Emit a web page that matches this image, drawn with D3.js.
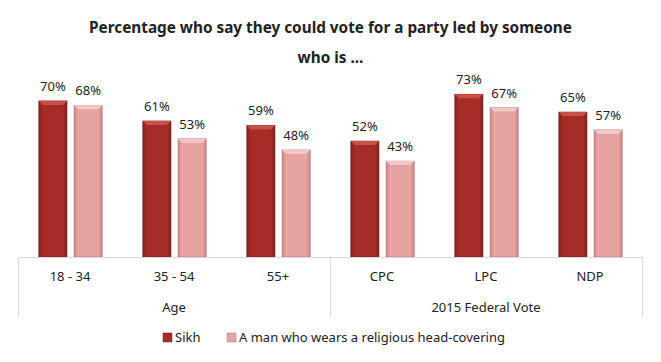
<!DOCTYPE html>
<html>
<head>
<meta charset="utf-8">
<script src="https://cdn.jsdelivr.net/npm/d3@7"></script>
<style>
  body { margin: 0; background: #fff; }
  text { font-family: "Noto Sans", "Open Sans", sans-serif; fill: #222; }
</style>
</head>
<body>
<div id="chart"></div>
<script>
const categories = ["18 - 34", "35 - 54", "55+", "CPC", "LPC", "NDP"];
const groups = [
  { name: "Age", cats: ["18 - 34", "35 - 54", "55+"] },
  { name: "2015 Federal Vote", cats: ["CPC", "LPC", "NDP"] }
];
const seriesNames = ["Sikh", "A man who wears a religious head-covering"];
const sikh = [70, 61, 59, 52, 73, 65];
const headCovering = [68, 53, 48, 43, 67, 57];
const titleLines = ["Percentage who say they could vote for a party led by someone", "who is ..."];

const width = 661, height = 362;
const margin = { left: 18, right: 19, axisY: 257 };

const data = categories.map((c, i) => ({ name: c, values: [sikh[i], headCovering[i]] }));

const svg = d3.select("#chart").append("svg")
  .attr("width", width)
  .attr("height", height);

const defs = svg.append("defs");
const palette = [
  { base: "#a52c27", edge: "#86201d", top: "#c85048", stroke: "#7a1e1b" },
  { base: "#e7a2a2", edge: "#c98787", top: "#f4c6c6", stroke: "#b87b7b" }
];
palette.forEach((p, i) => {
  const g = defs.append("linearGradient").attr("id", "grad" + i)
    .attr("x1", "0%").attr("x2", "100%").attr("y1", "0%").attr("y2", "0%");
  g.append("stop").attr("offset", "0%").attr("stop-color", p.edge);
  g.append("stop").attr("offset", "14%").attr("stop-color", p.base);
  g.append("stop").attr("offset", "86%").attr("stop-color", p.base);
  g.append("stop").attr("offset", "100%").attr("stop-color", p.edge);
});

// title, sized to fit the original width
const title = svg.append("g");
title.selectAll("text").data(titleLines).enter().append("text")
  .attr("x", width / 2)
  .attr("y", (d, i) => 33 + i * 30)
  .attr("text-anchor", "middle")
  .style("font-weight", "bold")
  .style("font-size", "15px")
  .text(d => d);
const firstLen = title.select("text").node().getComputedTextLength();
title.selectAll("text").style("font-size", (15 * 483 / firstLen).toFixed(2) + "px");

const x0 = d3.scaleBand()
  .domain(categories)
  .range([margin.left, width - margin.right]);

const x1 = d3.scaleBand()
  .domain([0, 1])
  .range([x0.bandwidth() * 0.2, x0.bandwidth() * 0.81])
  .paddingInner(0.2);

const y = d3.scaleLinear()
  .domain([0, 80])
  .range([margin.axisY, margin.axisY - 80 * 2.23]);

const cat = svg.selectAll(".cat")
  .data(data)
  .enter().append("g")
  .attr("class", "cat")
  .attr("transform", d => `translate(${x0(d.name)},0)`);

[0, 1].forEach(k => {
  const p = palette[k];
  const bw = x1.bandwidth();
  const bar = cat.append("g");
  bar.append("rect")
    .attr("x", x1(k))
    .attr("y", d => y(d.values[k]))
    .attr("width", bw)
    .attr("height", d => y(0) - y(d.values[k]))
    .attr("fill", `url(#grad${k})`)
    .attr("stroke", p.stroke)
    .attr("stroke-width", 0.6);
  // top bevel
  bar.append("path")
    .attr("d", d => {
      const x = x1(k), t = y(d.values[k]);
      return `M${x},${t}L${x + bw},${t}L${x + bw - 4},${t + 4}L${x + 4},${t + 4}Z`;
    })
    .attr("fill", p.top);
  bar.append("text")
    .attr("x", x1(k) + bw / 2)
    .attr("y", d => y(d.values[k]) - 10)
    .attr("text-anchor", "middle")
    .style("font-size", "13px")
    .text(d => d.values[k] + "%");
});

// axis
const axisColor = "#d9d9d9";
svg.append("line")
  .attr("x1", margin.left).attr("x2", width - margin.right)
  .attr("y1", margin.axisY + 0.5).attr("y2", margin.axisY + 0.5)
  .attr("stroke", axisColor);

const dividers = [margin.left, x0(groups[1].cats[0]), width - margin.right];
svg.selectAll(".divider").data(dividers).enter().append("line")
  .attr("x1", d => Math.round(d) + 0.5).attr("x2", d => Math.round(d) + 0.5)
  .attr("y1", margin.axisY).attr("y2", 317)
  .attr("stroke", axisColor);

svg.selectAll(".catlabel").data(categories).enter().append("text")
  .attr("x", d => x0(d) + x0.bandwidth() / 2)
  .attr("y", 281)
  .attr("text-anchor", "middle")
  .style("font-size", "13px")
  .text(d => d);

svg.selectAll(".grouplabel").data(groups).enter().append("text")
  .attr("x", d => (x0(d.cats[0]) + x0(d.cats[d.cats.length - 1]) + x0.bandwidth()) / 2)
  .attr("y", 312)
  .attr("text-anchor", "middle")
  .style("font-size", "13px")
  .text(d => d.name);

// legend
const legendX = [163, 227];
const legend = svg.selectAll(".legend").data(seriesNames).enter().append("g")
  .attr("transform", (d, i) => `translate(${legendX[i]},333)`);
legend.append("rect")
  .attr("width", 9).attr("height", 9)
  .attr("fill", (d, i) => palette[i].base)
  .attr("stroke", (d, i) => palette[i].stroke)
  .attr("stroke-width", 0.5);
legend.append("text")
  .attr("x", 12)
  .attr("y", 9)
  .style("font-size", "13px")
  .text(d => d);
</script>
</body>
</html>
